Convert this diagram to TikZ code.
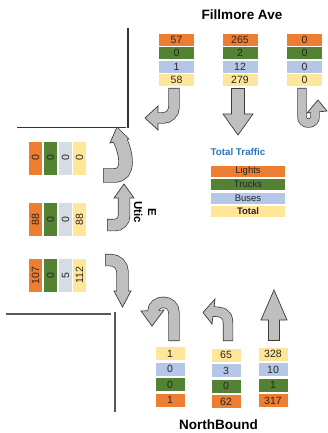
\documentclass[tikz,border=0pt]{standalone}
\usepackage{fontspec}
\setmainfont{Liberation Sans}
\definecolor{lightcol}{HTML}{ED7D31}
\definecolor{truckcol}{HTML}{548235}
\definecolor{buscol}  {HTML}{B4C7E7}
\definecolor{busgrey} {HTML}{D6DCE4}
\definecolor{totalcol}{HTML}{FFE699}
\definecolor{arrowcol}{HTML}{BFBFBF}
\definecolor{edgecol} {HTML}{3A3A3A}
\definecolor{keyblue} {HTML}{2E75B6}
\definecolor{streetcol}{HTML}{595959}
\newcommand{\cellfont}{\fontsize{10.5}{12}\selectfont}
\newcommand{\keyfont}{\fontsize{9.5}{11}\selectfont}
% block arrow: stem path, then head polygon
\newcommand{\blockarrow}[3][10pt]{%
  \draw[stemedge=#1] #2;
  \filldraw[arrowhead] #3 -- cycle;
  \draw[stemfill=#1] #2;
}
\tikzset{
  lcell/.style={rectangle, fill=lightcol, inner sep=0pt, text=black!85, font=\cellfont},
  tcell/.style={rectangle, fill=truckcol, inner sep=0pt, text=black!85, font=\cellfont},
  bcell/.style={rectangle, fill=buscol,   inner sep=0pt, text=black!85, font=\cellfont},
  gcell/.style={rectangle, fill=busgrey,  inner sep=0pt, text=black!85, font=\cellfont},
  ycell/.style={rectangle, fill=totalcol, inner sep=0pt, text=black!85, font=\cellfont},
  topbox/.style={minimum width=35pt, minimum height=12pt},
  sidebox/.style={minimum width=33pt, minimum height=13pt, rotate=90},
  botbox/.style={minimum width=29pt, minimum height=13pt},
  keybox/.style={minimum width=74pt, minimum height=11pt, font=\keyfont},
  stemedge/.style={draw=edgecol, line width=#1+1.4pt},
  stemfill/.style={draw=arrowcol, line width=#1, shorten <=0.7pt},
  arrowhead/.style={fill=arrowcol, draw=edgecol, line width=0.7pt, line join=miter},
  street/.style={draw=#1, line width=1.4pt},
  roadname/.style={font=\fontsize{13.5}{16}\selectfont\bfseries, inner sep=0pt},
}

\begin{document}
\begin{tikzpicture}[x=1pt, y=-1pt]
  \useasboundingbox (0,0) rectangle (327,433);

  % street corners
  \draw[street=black!80] (128,28) -- (128,128);
  \draw[street=black!80] (17,127.5) -- (126,127.5);
  \draw[street=streetcol] (6,314) -- (111,314);
  \draw[street=streetcol] (115,312) -- (115,412);

  % Fillmore Ave (southbound)
  \node[roadname] (fillmore) at (242,14.5) {Fillmore Ave};
  \node[lcell, topbox] (F1L) at (176.5,40)   {57};
  \node[tcell, topbox] (F1T) at (176.5,53.3) {0};
  \node[bcell, topbox] (F1B) at (176.5,66.6) {1};
  \node[ycell, topbox] (F1S) at (176.5,80)   {58};
  \node[lcell, topbox] (F2L) at (240,40)     {265};
  \node[tcell, topbox] (F2T) at (240,53.3)   {2};
  \node[bcell, topbox] (F2B) at (240,66.6)   {12};
  \node[ycell, topbox] (F2S) at (240,80)     {279};
  \node[lcell, topbox] (F3L) at (304.5,40)   {0};
  \node[tcell, topbox] (F3T) at (304.5,53.3) {0};
  \node[bcell, topbox] (F3B) at (304.5,66.6) {0};
  \node[ycell, topbox] (F3S) at (304.5,80)   {0};
  \blockarrow{(174,88) [rounded corners=11pt] -- (174,118) -- (156,118)}{(158,106) -- (145,118) -- (158,130)}
  \blockarrow[12pt]{(238,88) -- (238,116)}{(223,114) -- (253,114) -- (238,135)}
  \blockarrow[8pt]{(302,88) [rounded corners=6pt] -- (302,123) -- (315,123) -- (315,110)}{(307,113) -- (318,100) -- (327,111)}

  % E Utica (westbound)
  \node[rotate=-90, align=center, font=\fontsize{11.5}{14}\selectfont\bfseries, inner sep=0pt] (utica) at (145,212) {E\\Utic};
  \node[lcell, sidebox] (W1L) at (35.5,158) {0};
  \node[tcell, sidebox] (W1T) at (50.5,158) {0};
  \node[gcell, sidebox] (W1B) at (65.5,158) {0};
  \node[ycell, sidebox] (W1S) at (79.5,158) {0};
  \node[lcell, sidebox] (W2L) at (35.5,219.5) {88};
  \node[tcell, sidebox] (W2T) at (50.5,219.5) {0};
  \node[gcell, sidebox] (W2B) at (65.5,219.5) {0};
  \node[ycell, sidebox] (W2S) at (79.5,219.5) {88};
  \node[lcell, sidebox] (W3L) at (35.5,275.5) {107};
  \node[tcell, sidebox] (W3T) at (50.5,275.5) {0};
  \node[gcell, sidebox] (W3B) at (65.5,275.5) {5};
  \node[ycell, sidebox] (W3S) at (79.5,275.5) {112};
  \blockarrow[13pt]{(103,175.5) -- (114,175.5) .. controls (131,175.5) and (126,152) .. (119.5,139)}{(110,143) -- (117,127) -- (129,139)}
  \blockarrow[11pt]{(107,225) [rounded corners=9pt] -- (124,225) -- (124,196)}{(114,198) -- (124,184) -- (134,198)}
  \blockarrow[11pt]{(105,260) [rounded corners=12pt] -- (122.5,260) -- (122.5,293)}{(114,291) -- (122.5,307) -- (131,291)}

  % NorthBound
  \node[roadname] (northbound) at (218.5,424.5) {NorthBound};
  \node[ycell, botbox] (N1S) at (170,353.5) {1};
  \node[bcell, botbox] (N1B) at (170,369)   {0};
  \node[tcell, botbox] (N1T) at (170,384.5) {0};
  \node[lcell, botbox] (N1L) at (170,400)   {1};
  \node[ycell, botbox] (N2S) at (226,355)   {65};
  \node[bcell, botbox] (N2B) at (226,370.5) {3};
  \node[tcell, botbox] (N2T) at (226,386)   {0};
  \node[lcell, botbox] (N2L) at (226,401.5) {62};
  \node[ycell, botbox] (N3S) at (273,354)   {328};
  \node[bcell, botbox] (N3B) at (273,369.5) {10};
  \node[tcell, botbox] (N3T) at (273,385)   {1};
  \node[lcell, botbox] (N3L) at (273,400.5) {317};
  \blockarrow{(174,341) -- (174,313) .. controls (174,299) and (153,299) .. (153,312)}{(141,311) -- (152,326) -- (164,310)}
  \blockarrow[9pt]{(228,341) -- (228,323) .. controls (228,313) and (222,311.5) .. (211.5,311.6)}{(215,299) -- (203,312.5) -- (212,324)}
  \blockarrow{(274,341) -- (274,318)}{(261,320) -- (274,290) -- (287,320)}

  % key
  \node[font=\fontsize{9.8}{12}\selectfont\bfseries, text=keyblue] (keytitle) at (238,152) {Total Traffic};
  \node[lcell, keybox] (keyL) at (248,171)   {Lights};
  \node[tcell, keybox] (keyT) at (248,184.5) {Trucks};
  \node[bcell, keybox] (keyB) at (248,198)   {Buses};
  \node[ycell, keybox, font=\keyfont\bfseries] (keyS) at (248,211.5) {Total};
\end{tikzpicture}
\end{document}
